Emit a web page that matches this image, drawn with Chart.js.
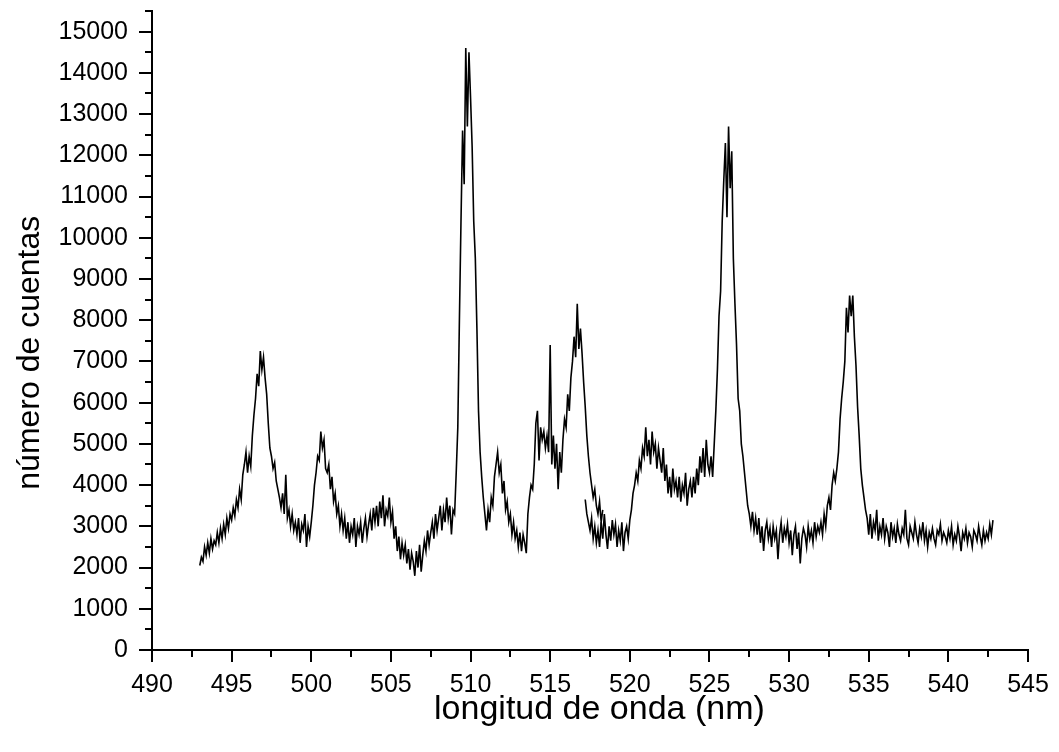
<!DOCTYPE html>
<html><head><meta charset="utf-8">
<script src="https://cdn.jsdelivr.net/npm/chart.js@4.4.1/dist/chart.umd.min.js"></script>
<style>html,body{margin:0;padding:0;background:#fff}#wrap{width:1059px;height:752px}</style>
</head><body><div id="wrap"><canvas id="c" width="1059" height="752"></canvas></div>
<script>
// Segment A: 493.0 - 518.3 nm
const wavelengthA = [
493.0,493.1,493.2,493.3,493.4,493.5,493.6,493.7,493.8,493.9,
494.0,494.1,494.2,494.3,494.4,494.5,494.6,494.7,494.8,494.9,
495.0,495.1,495.2,495.3,495.4,495.5,495.6,495.7,495.8,495.9,
496.0,496.1,496.2,496.3,496.4,496.5,496.6,496.7,496.8,496.9,
497.0,497.1,497.2,497.3,497.4,497.5,497.6,497.7,497.8,497.9,
498.0,498.1,498.2,498.3,498.4,498.5,498.6,498.7,498.8,498.9,
499.0,499.1,499.2,499.3,499.4,499.5,499.6,499.7,499.8,499.9,
500.0,500.1,500.2,500.3,500.4,500.5,500.6,500.7,500.8,500.9,
501.0,501.1,501.2,501.3,501.4,501.5,501.6,501.7,501.8,501.9,
502.0,502.1,502.2,502.3,502.4,502.5,502.6,502.7,502.8,502.9,
503.0,503.1,503.2,503.3,503.4,503.5,503.6,503.7,503.8,503.9,
504.0,504.1,504.2,504.3,504.4,504.5,504.6,504.7,504.8,504.9,
505.0,505.1,505.2,505.3,505.4,505.5,505.6,505.7,505.8,505.9,
506.0,506.1,506.2,506.3,506.4,506.5,506.6,506.7,506.8,506.9,
507.0,507.1,507.2,507.3,507.4,507.5,507.6,507.7,507.8,507.9,
508.0,508.1,508.2,508.3,508.4,508.5,508.6,508.7,508.8,508.9,
509.0,509.1,509.2,509.3,509.4,509.5,509.6,509.7,509.8,509.9,
510.0,510.1,510.2,510.3,510.4,510.5,510.6,510.7,510.8,510.9,
511.0,511.1,511.2,511.3,511.4,511.5,511.6,511.7,511.8,511.9,
512.0,512.1,512.2,512.3,512.4,512.5,512.6,512.7,512.8,512.9,
513.0,513.1,513.2,513.3,513.4,513.5,513.6,513.7,513.8,513.9,
514.0,514.1,514.2,514.3,514.4,514.5,514.6,514.7,514.8,514.9,
515.0,515.1,515.2,515.3,515.4,515.5,515.6,515.7,515.8,515.9,
516.0,516.1,516.2,516.3,516.4,516.5,516.6,516.7,516.8,516.9,
517.0,517.1,517.2,517.3,517.4,517.5,517.6,517.7,517.8,517.9,
518.0,518.1,518.2,518.3
];
const countsA = [
2050,2250,2150,2500,2300,2600,2350,2700,2450,2650,
2550,2850,2600,2950,2700,3050,2800,3200,2950,3300,
3150,3450,3250,3650,3450,3900,3650,4250,4500,4800,
4300,4700,4450,5200,5700,6100,6700,6400,7250,6800,
7100,6600,6200,5500,4900,4700,4400,4550,4100,3900,
3700,3450,3800,3300,4250,3200,3400,3000,3300,2900,
3100,2800,3200,2600,3050,2900,3300,2500,3000,2750,
3100,3500,4000,4300,4700,4600,5300,4900,5100,4400,
4300,4500,3900,4200,3600,3800,3300,3500,3000,3300,
2900,3200,2700,3100,2600,3000,2800,3200,2500,3000,
2800,3100,2600,2950,3200,2750,3050,3300,2900,3450,
3100,3500,3000,3600,3200,3750,3000,3400,3250,3700,
3100,3350,2700,3000,2400,2750,2200,2600,2300,2550,
2100,2450,1950,2350,2150,1800,2400,2000,2550,1900,
2300,2650,2400,2900,2550,2850,3100,2700,3300,2900,
3200,3500,2900,3400,3100,3700,3200,3500,2800,3400,
3300,4300,5400,8000,10400,12600,11300,14600,12700,14500,
13400,12200,10400,9500,7800,5800,4800,4200,3700,3300,
2900,3400,3100,3700,3500,4200,4500,4800,4300,4500,
3800,4100,3400,3600,3100,3300,2800,3100,2700,2900,
2500,2850,2400,2800,2600,2350,3300,3700,4000,3900,
4500,5500,5800,4600,5400,5100,5300,4900,5200,4800,
7400,4500,5200,4400,5000,3900,4800,4300,5100,5600,
5400,6200,5800,6600,7000,7600,7100,8400,7300,7800,
7200,6500,5900,5200,4700,4300,4000,3700,3900,3500,
3300,3600,3100,3400
];
// Segment B: 517.2 - 542.8 nm
const wavelengthB = [
517.2,517.3,517.4,517.5,517.6,517.7,517.8,517.9,
518.0,518.1,518.2,518.3,518.4,518.5,518.6,518.7,518.8,518.9,
519.0,519.1,519.2,519.3,519.4,519.5,519.6,519.7,519.8,519.9,
520.0,520.1,520.2,520.3,520.4,520.5,520.6,520.7,520.8,520.9,
521.0,521.1,521.2,521.3,521.4,521.5,521.6,521.7,521.8,521.9,
522.0,522.1,522.2,522.3,522.4,522.5,522.6,522.7,522.8,522.9,
523.0,523.1,523.2,523.3,523.4,523.5,523.6,523.7,523.8,523.9,
524.0,524.1,524.2,524.3,524.4,524.5,524.6,524.7,524.8,524.9,
525.0,525.1,525.2,525.3,525.4,525.5,525.6,525.7,525.8,525.9,
526.0,526.1,526.2,526.3,526.4,526.5,526.6,526.7,526.8,526.9,
527.0,527.1,527.2,527.3,527.4,527.5,527.6,527.7,527.8,527.9,
528.0,528.1,528.2,528.3,528.4,528.5,528.6,528.7,528.8,528.9,
529.0,529.1,529.2,529.3,529.4,529.5,529.6,529.7,529.8,529.9,
530.0,530.1,530.2,530.3,530.4,530.5,530.6,530.7,530.8,530.9,
531.0,531.1,531.2,531.3,531.4,531.5,531.6,531.7,531.8,531.9,
532.0,532.1,532.2,532.3,532.4,532.5,532.6,532.7,532.8,532.9,
533.0,533.1,533.2,533.3,533.4,533.5,533.6,533.7,533.8,533.9,
534.0,534.1,534.2,534.3,534.4,534.5,534.6,534.7,534.8,534.9,
535.0,535.1,535.2,535.3,535.4,535.5,535.6,535.7,535.8,535.9,
536.0,536.1,536.2,536.3,536.4,536.5,536.6,536.7,536.8,536.9,
537.0,537.1,537.2,537.3,537.4,537.5,537.6,537.7,537.8,537.9,
538.0,538.1,538.2,538.3,538.4,538.5,538.6,538.7,538.8,538.9,
539.0,539.1,539.2,539.3,539.4,539.5,539.6,539.7,539.8,539.9,
540.0,540.1,540.2,540.3,540.4,540.5,540.6,540.7,540.8,540.9,
541.0,541.1,541.2,541.3,541.4,541.5,541.6,541.7,541.8,541.9,
542.0,542.1,542.2,542.3,542.4,542.5,542.6,542.7,542.8
];
const countsB = [
3650,3300,3100,2900,3200,2700,3000,2600,
2900,2500,3100,2700,3300,2800,2450,3000,2650,3150,
2800,3050,2500,2900,2650,3100,2400,2850,3000,2700,
3150,3400,3800,4000,4300,4100,4600,4400,4900,4700,
5400,4700,5100,4500,5300,4800,5000,4400,4900,4600,
4300,4900,4100,4500,3800,4200,3700,4400,3900,4100,
3700,4200,3600,4000,3800,4300,3500,3900,4100,3700,
4200,3800,4400,4000,4700,4300,4900,4200,5100,4500,
4300,4700,4200,5000,5800,6800,8100,8700,10400,11400,
12300,10500,12700,11200,12100,9500,8400,7400,6100,5800,
5000,4700,4300,3900,3500,3300,3000,3350,2900,3200,
2800,3200,2600,3000,2400,2900,3100,2700,2950,2500,
3000,2700,2900,2200,2800,3100,2600,2950,2750,3050,
2600,2900,2300,2800,3000,2450,2850,2100,2700,2950,
2800,2500,3000,2700,2900,2600,3100,2750,3000,2850,
3100,2800,3300,3000,3500,3700,3400,4000,4300,4100,
4400,4800,5600,6100,6500,7000,8300,7700,8600,8100,
8600,7600,6900,5900,5200,4400,4000,3700,3400,3200,
2800,3300,2700,3100,2900,3400,2650,3000,2800,3200,
2700,3000,2850,2500,3100,2750,2950,2600,3050,2800,
2650,2950,2800,3400,2700,2550,3000,2850,2700,3100,
2800,2600,2950,2750,3100,2650,2900,2500,2850,2700,
2950,2700,2550,2900,2800,3050,2650,2850,2750,2600,
2900,2700,3000,2550,2800,2650,3000,2750,2400,2850,
2700,2950,2600,2850,2750,2500,2900,2800,2650,3000,
2750,2550,2900,2650,2850,2700,3050,2800,3150
];
const xTickValues = [490,495,500,505,510,515,520,525,530,535,540,545];
const xMinorValues = [492.5,497.5,502.5,507.5,512.5,517.5,522.5,527.5,532.5,537.5,542.5];
const yTickValues = [0,1000,2000,3000,4000,5000,6000,7000,8000,9000,10000,11000,12000,13000,14000,15000];
const yMinorValues = [500,1500,2500,3500,4500,5500,6500,7500,8500,9500,10500,11500,12500,13500,14500,15500];

const FONT = "'Liberation Sans', Arial, sans-serif";

function pairs(xs, ys){ return xs.map((x,i)=>({x:x, y:ys[i]})); }

const tickMarks = {
  id: 'tickMarks',
  afterDraw(chart){
    const {ctx, scales:{x, y}, chartArea:a} = chart;
    ctx.save();
    ctx.strokeStyle = '#000';
    ctx.lineWidth = 2;
    ctx.beginPath();
    xTickValues.forEach(v=>{ const p = Math.round(x.getPixelForValue(v)); ctx.moveTo(p, a.bottom); ctx.lineTo(p, a.bottom+12); });
    xMinorValues.forEach(v=>{ const p = Math.round(x.getPixelForValue(v)); ctx.moveTo(p, a.bottom); ctx.lineTo(p, a.bottom+7); });
    yTickValues.forEach(v=>{ const p = Math.round(y.getPixelForValue(v)); ctx.moveTo(a.left, p); ctx.lineTo(a.left-13, p); });
    yMinorValues.forEach(v=>{ const p = Math.round(y.getPixelForValue(v)); ctx.moveTo(a.left, p); ctx.lineTo(a.left-7, p); });
    ctx.stroke();
    ctx.restore();
  }
};

new Chart(document.getElementById('c'), {
  type: 'scatter',
  data: {
    datasets: [
      { data: pairs(wavelengthA, countsA), showLine: true, borderColor: '#000', backgroundColor: '#000', borderWidth: 1.6, pointRadius: 0, tension: 0 },
      { data: pairs(wavelengthB, countsB), showLine: true, borderColor: '#000', backgroundColor: '#000', borderWidth: 1.6, pointRadius: 0, tension: 0 }
    ]
  },
  options: {
    responsive: false,
    animation: false,
    layout: { padding: { top: 11, right: 31, left: 0, bottom: 0 } },
    plugins: { legend: { display: false }, tooltip: { enabled: false } },
    scales: {
      x: {
        type: 'linear', min: 490, max: 545,
        afterBuildTicks: s => { s.ticks = xTickValues.map(v=>({value:v})); },
        afterFit: s => { s.height = 102; s.paddingLeft = 0; s.paddingRight = 0; },
        grid: { display: false, drawTicks: false },
        border: { display: true, color: '#000', width: 2 },
        ticks: { color: '#000', font: { family: FONT, size: 25 }, padding: 20, maxRotation: 0, autoSkip: false, callback: v => String(v) },
        title: { display: true, text: '  longitud de onda (nm)', color: '#000', font: { family: FONT, size: 34 }, padding: { top: 0, bottom: 22 } }
      },
      y: {
        type: 'linear', min: 0, max: 15500,
        afterBuildTicks: s => { s.ticks = yTickValues.map(v=>({value:v})); },
        afterFit: s => { s.width = 152; s.paddingTop = 0; s.paddingBottom = 0; },
        grid: { display: false, drawTicks: false },
        border: { display: true, color: '#000', width: 2 },
        ticks: { color: '#000', font: { family: FONT, size: 25 }, padding: 24, autoSkip: false, callback: v => String(v) },
        title: { display: true, text: 'número de cuentas     ', color: '#000', font: { family: FONT, size: 32 }, padding: { top: 11, bottom: 0 } }
      }
    }
  },
  plugins: [tickMarks]
});
</script>
</body></html>
